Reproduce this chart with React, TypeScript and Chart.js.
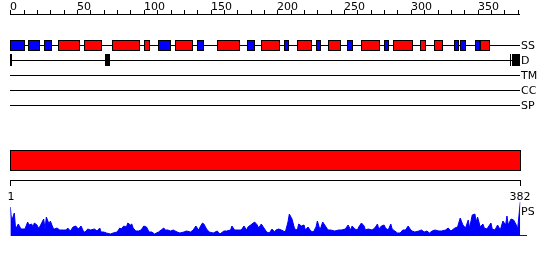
import React, { useEffect, useRef } from 'react';
import { Chart, registerables } from 'chart.js';

Chart.register(...registerables);

// ---- data ----
const SEQ_LEN = 382;
const rulerMajor = [0, 50, 100, 150, 200, 250, 300, 350];
const rulerMinorStep = 10;

const trackNames = ['SS', 'D', 'TM', 'CC', 'SP'];

// secondary structure: H = helix (red), E = strand (blue); 1-based inclusive residues
const ssType = ['E', 'E', 'E', 'H', 'H', 'H', 'H', 'E', 'H', 'E', 'H', 'E', 'H', 'E', 'H', 'E', 'H', 'E', 'H', 'E', 'H', 'H', 'H', 'E', 'E', 'E', 'H'];
const ssStart = [1, 14, 26, 37, 56, 77, 101, 112, 124, 141, 156, 178, 189, 206, 216, 230, 239, 253, 264, 281, 288, 308, 318, 333, 338, 349, 353];
const ssEnd = [11, 22, 31, 52, 69, 97, 105, 120, 137, 145, 172, 183, 202, 209, 226, 233, 248, 257, 277, 284, 302, 311, 324, 336, 341, 352, 359];

// disorder regions
const disStart = [1, 72, 375, 377];
const disEnd = [1, 75, 375, 382];

// domain bar
const domainStart = [1];
const domainEnd = [382];

// bottom ruler labels
const psRulerLabels = ['1', '382'];

// PS profile
const psResidue = [0, 1, 3, 4, 6, 8, 11, 13, 14, 16, 17, 18, 20, 21, 22, 25, 26, 27, 29, 30, 32, 33, 35, 37, 40, 42, 43, 45, 47, 49, 51, 53, 55, 56, 58, 60, 63, 65, 67, 68, 70, 72, 75, 77, 80, 82, 83, 85, 87, 88, 90, 91, 92, 94, 96, 98, 99, 100, 102, 104, 106, 108, 111, 113, 115, 116, 118, 120, 122, 125, 127, 130, 132, 135, 137, 139, 141, 143, 144, 145, 147, 149, 152, 155, 157, 160, 162, 165, 166, 168, 171, 173, 175, 177, 178, 180, 183, 185, 186, 188, 190, 192, 194, 196, 198, 199, 201, 203, 206, 208, 209, 211, 213, 215, 216, 218, 220, 221, 223, 225, 227, 229, 230, 232, 234, 236, 238, 240, 243, 246, 248, 251, 253, 255, 256, 258, 260, 261, 263, 265, 266, 268, 271, 273, 275, 276, 278, 280, 281, 283, 285, 286, 288, 290, 292, 294, 296, 298, 300, 301, 303, 306, 308, 310, 312, 314, 316, 318, 321, 323, 326, 328, 330, 331, 333, 335, 337, 339, 341, 343, 344, 346, 348, 349, 350, 352, 354, 355, 357, 360, 361, 363, 365, 367, 369, 371, 372, 373, 375, 377, 379, 380, 382];
const psScore = [29, 15, 23, 7, 12, 7, 7, 14, 11, 12, 9, 13, 11, 8, 9, 17, 7, 19, 12, 15, 8, 7, 8, 6, 6, 6, 8, 5, 9, 10, 7, 10, 4, 4, 7, 6, 7, 5, 8, 4, 4, 3, 2, 3, 4, 8, 7, 10, 9, 13, 11, 12, 8, 5, 5, 6, 8, 10, 9, 4, 4, 2, 4, 6, 8, 6, 6, 5, 6, 4, 3, 4, 5, 4, 6, 10, 6, 11, 13, 12, 7, 4, 3, 5, 2, 5, 5, 6, 10, 6, 6, 6, 10, 6, 9, 11, 14, 11, 8, 12, 8, 4, 3, 7, 4, 6, 7, 6, 4, 14, 22, 17, 7, 6, 12, 10, 11, 6, 9, 5, 4, 9, 15, 6, 14, 10, 6, 6, 5, 6, 6, 7, 11, 6, 10, 7, 6, 9, 13, 10, 6, 7, 6, 8, 12, 7, 10, 11, 8, 6, 12, 7, 5, 3, 3, 6, 6, 10, 6, 5, 4, 5, 6, 4, 5, 3, 5, 6, 5, 5, 6, 8, 5, 6, 8, 9, 18, 11, 8, 16, 8, 21, 22, 14, 19, 9, 12, 8, 7, 13, 7, 6, 11, 6, 15, 11, 20, 11, 17, 16, 11, 7, 34];

// ---- layout / style ----
const FONT = '11px "DejaVu Sans"';
const RULER_Y = 14;
const TRACK_Y = [45, 60, 75, 90, 105];
const SS_COLORS: Record<string, string> = { H: '#ff0000', E: '#0000ff' };
const DOMAIN_TOP = 150;
const PS_RULER_Y = 180;
const PS_LABEL_Y = 211;

const trackPlugin = {
  id: 'tracks',
  afterDatasetsDraw(chart: any) {
    const ctx: CanvasRenderingContext2D = chart.ctx;
    const xs = chart.scales.x;
    const px = (r: number) => xs.getPixelForValue(r);
    const ex = (r: number) => Math.round(px(r));
    const x0 = ex(0);
    const x1 = ex(SEQ_LEN);
    ctx.save();
    ctx.lineWidth = 1;
    ctx.strokeStyle = '#000';
    ctx.fillStyle = '#000';
    ctx.font = FONT;

    const hline = (y: number, a: number, b: number) => {
      ctx.beginPath();
      ctx.moveTo(a, y + 0.5);
      ctx.lineTo(b, y + 0.5);
      ctx.stroke();
    };
    const vline = (x: number, a: number, b: number) => {
      ctx.beginPath();
      ctx.moveTo(x + 0.5, a);
      ctx.lineTo(x + 0.5, b);
      ctx.stroke();
    };

    // top ruler
    hline(RULER_Y, x0, x1);
    for (let t = 0; t <= SEQ_LEN; t += rulerMinorStep) {
      vline(ex(t), RULER_Y - 4, RULER_Y + 1);
    }
    ctx.textAlign = 'left';
    ctx.textBaseline = 'alphabetic';
    rulerMajor.forEach((t) => ctx.fillText(String(t), ex(t), RULER_Y - 4));

    // track lines and labels
    TRACK_Y.forEach((y, i) => {
      hline(y, x0, x1);
      ctx.fillStyle = '#000';
      ctx.fillText(trackNames[i], x1 + 1, y + 4);
    });

    // SS boxes
    ssStart.forEach((s, i) => {
      const a = ex(s - 1);
      const b = ex(ssEnd[i]);
      const top = TRACK_Y[0] - 5;
      ctx.fillStyle = SS_COLORS[ssType[i]];
      ctx.fillRect(a, top, b - a, 11);
      ctx.strokeRect(a + 0.5, top + 0.5, b - a - 1, 10);
    });

    // disorder
    ctx.fillStyle = '#000';
    disStart.forEach((s, i) => {
      const a = ex(s - 1);
      const b = Math.max(ex(disEnd[i]), a + 1);
      ctx.fillRect(a, TRACK_Y[1] - 6, b - a, 12);
    });

    // domain bar
    domainStart.forEach((s, i) => {
      const a = ex(s - 1);
      const b = ex(domainEnd[i]) + 1;
      ctx.fillStyle = '#ff0000';
      ctx.fillRect(a, DOMAIN_TOP, b - a, 21);
      ctx.strokeRect(a + 0.5, DOMAIN_TOP + 0.5, b - a - 1, 20);
    });

    // bottom ruler
    hline(PS_RULER_Y, x0, x1 + 1);
    vline(x0, PS_RULER_Y, PS_RULER_Y + 6);
    vline(x1, PS_RULER_Y, PS_RULER_Y + 6);
    ctx.fillStyle = '#000';
    ctx.textAlign = 'center';
    ctx.fillText(psRulerLabels[0], x0 + 1, PS_RULER_Y + 20);
    ctx.fillText(psRulerLabels[1], x1, PS_RULER_Y + 20);

    // PS label and baseline tail
    ctx.textAlign = 'left';
    ctx.fillText('PS', x1 + 1, PS_LABEL_Y + 4);
    const base = chart.scales.y.getPixelForValue(0);
    ctx.strokeStyle = '#0000ff';
    hline(base - 1, x1, x1 + 7);
    ctx.restore();
  },
};

export default function App() {
  const ref = useRef<HTMLCanvasElement | null>(null);
  useEffect(() => {
    if (!ref.current) return;
    const chart = new Chart(ref.current, {
      type: 'line',
      data: {
        datasets: [
          {
            data: psResidue.map((r, i) => ({ x: r, y: psScore[i] })),
            borderColor: '#0000ff',
            backgroundColor: '#0000ff',
            borderWidth: 1,
            pointRadius: 0,
            fill: 'origin',
            tension: 0,
          },
        ],
      },
      options: {
        responsive: false,
        animation: false,
        devicePixelRatio: 1,
        layout: { padding: { left: 10.3, right: 29.7, top: 0, bottom: 0 } },
        scales: {
          x: { type: 'linear', min: 0, max: SEQ_LEN, display: false },
          y: { type: 'linear', min: -24, max: 236, display: false },
        },
        plugins: { legend: { display: false }, tooltip: { enabled: false } },
      },
      plugins: [trackPlugin],
    });
    return () => chart.destroy();
  }, []);
  return (
    <div style={{ position: 'absolute', left: 0, top: 0, width: 550, height: 260, background: '#fff' }}>
      <canvas ref={ref} width={550} height={260} style={{ display: 'block' }} />
    </div>
  );
}
